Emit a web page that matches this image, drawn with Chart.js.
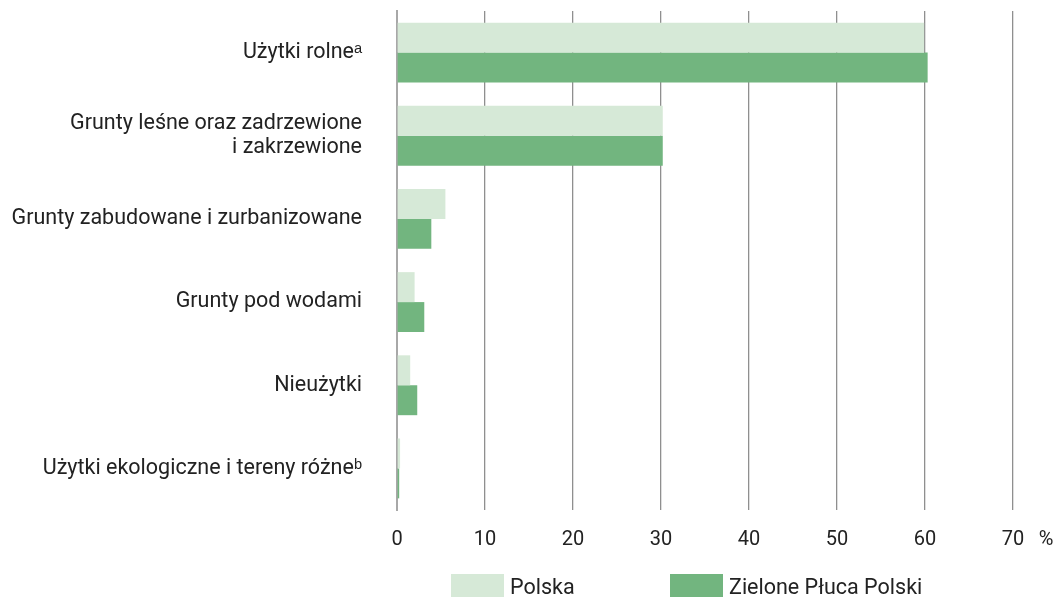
<!DOCTYPE html>
<html>
<head>
<meta charset="utf-8">
<script src="https://cdn.jsdelivr.net/npm/chart.js@4/dist/chart.umd.min.js"></script>
<style>
  html, body { margin: 0; padding: 0; background: #fff; }
  #wrap { position: relative; width: 1059px; height: 597px; overflow: hidden; }
  #c { position: absolute; left: 0; top: 0; }
  .leg { position: absolute; top: 574px; height: 24px; display: flex; align-items: center; font-family: Roboto, sans-serif; font-size: 21.5px; color: #222; }
  .leg .box { width: 53px; height: 24px; margin-right: 6px; }
</style>
</head>
<body>
<div id="wrap">
  <canvas id="c" width="1059" height="597"></canvas>
  <div class="leg" style="left:451px"><span class="box" style="background:#d6e9d7"></span><span>Polska</span></div>
  <div class="leg" style="left:670px"><span class="box" style="background:#72b57f"></span><span>Zielone Płuca Polski</span></div>
</div>
<script>
const categories = [
  "Użytki rolneᵃ",
  ["Grunty leśne oraz zadrzewione", "i zakrzewione"],
  "Grunty zabudowane i zurbanizowane",
  "Grunty pod wodami",
  "Nieużytki",
  "Użytki ekologiczne i tereny różneᵇ"
];
const seriesNames = ["Polska", "Zielone Płuca Polski"];
const polska = [59.9, 30.2, 5.5, 2.0, 1.5, 0.35];
const zpp = [60.3, 30.2, 3.9, 3.1, 2.3, 0.25];
const xTicks = [0, 10, 20, 30, 40, 50, 60, 70];

const FONT = "Roboto, sans-serif";

const percentPlugin = {
  id: 'percentPlugin',
  afterDraw(chart) {
    const s = chart.scales.x;
    const ctx = chart.ctx;
    ctx.save();
    ctx.font = "20px " + FONT;
    ctx.fillStyle = "#222";
    ctx.textAlign = "center";
    ctx.textBaseline = "middle";
    ctx.fillText("%", s.right + 33, s.top + 30);
    ctx.restore();
  }
};

new Chart(document.getElementById('c'), {
  type: 'bar',
  data: {
    labels: categories,
    datasets: [
      { label: seriesNames[0], data: polska, backgroundColor: '#d6e9d7', borderWidth: 0 },
      { label: seriesNames[1], data: zpp, backgroundColor: '#72b57f', borderWidth: 0 }
    ]
  },
  options: {
    indexAxis: 'y',
    responsive: false,
    animation: false,
    maintainAspectRatio: false,
    layout: { padding: { top: 11, right: 46, left: 0, bottom: 0 } },
    datasets: { bar: { categoryPercentage: 0.72, barPercentage: 1.0 } },
    plugins: { legend: { display: false }, tooltip: { enabled: false } },
    scales: {
      x: {
        min: 0, max: 70,
        afterBuildTicks(scale) { scale.ticks = xTicks.map(v => ({ value: v })); },
        afterFit(scale) { scale.height = 87; scale.paddingLeft = 0; scale.paddingRight = 0; },
        grid: { color: '#8f8f8f', lineWidth: 1.3, drawTicks: false },
        border: { display: false },
        ticks: { font: { family: FONT, size: 20 }, color: '#222', padding: 18, maxRotation: 0 }
      },
      y: {
        afterFit(scale) { scale.width = 397; scale.paddingTop = 0; scale.paddingBottom = 0; },
        grid: { display: false, drawTicks: false },
        border: { display: true, color: '#a8a8a8', width: 2 },
        ticks: { font: { family: FONT, size: 21.5, lineHeight: 1.15 }, color: '#222', padding: 35 }
      }
    }
  },
  plugins: [percentPlugin]
});
</script>
</body>
</html>
